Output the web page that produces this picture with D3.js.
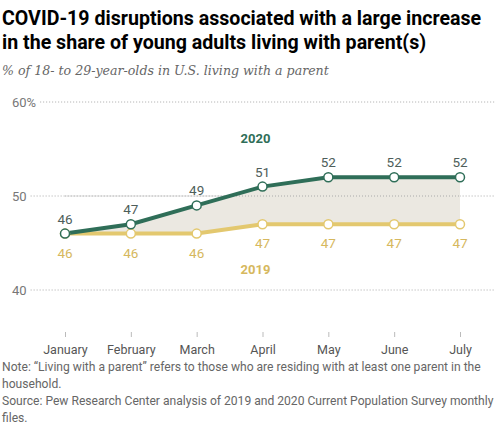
<!DOCTYPE html>
<html><head><meta charset="utf-8">
<script src="https://cdn.jsdelivr.net/npm/d3@7"></script>
<style>
body{margin:0;background:#fff;}
svg{display:block;}
</style></head>
<body>
<script>
const months = ["January","February","March","April","May","June","July"];
const values2020 = [46,47,49,51,52,52,52];
const values2019 = [46,46,46,47,47,47,47];
const yTicks = [40,50,60];
const title = ["COVID-19 disruptions associated with a large increase","in the share of young adults living with parent(s)"];
const subtitle = "% of 18- to 29-year-olds in U.S. living with a parent";
const notes = ["Note: \u201cLiving with a parent\u201d refers to those who are residing with at least one parent in the","household.","Source: Pew Research Center analysis of 2019 and 2020 Current Population Survey monthly","files."];

const W=496,H=429;
const green="#2f6e58", gold="#e3c86f", fillC="#ebe8e1";
const svg=d3.select("body").append("svg").attr("width",W).attr("height",H);

const x=d3.scalePoint().domain(months).range([65,460]);
const y=d3.scaleLinear().domain([40,60]).range([290,102]);

// title
svg.append("g").selectAll("text").data(title).join("text")
 .attr("x",2).attr("y",(d,i)=>25+i*24).text(d=>d)
 .attr("font-family","Roboto, 'Liberation Sans', sans-serif").attr("font-weight","bold").attr("font-size",19.6).attr("fill","#000");
svg.append("text").attr("x",2).attr("y",75).text(subtitle)
 .attr("font-family","'DejaVu Serif', 'Liberation Serif', serif").attr("font-style","italic").attr("font-size",12.6).attr("fill","#666");

// grid
const grid=svg.append("g");
yTicks.forEach(t=>{
  const lab = t===60? "60%": String(t);
  const tx=grid.append("text").attr("x",12).attr("y",y(t)+4.5).text(lab)
   .attr("font-family","Roboto, sans-serif").attr("font-size",13).attr("fill","#777");
  const w=tx.node().getComputedTextLength();
  grid.append("line").attr("x1",12+w+4).attr("x2",495).attr("y1",y(t)).attr("y2",y(t))
   .attr("stroke","#aaa").attr("stroke-width",1).attr("stroke-dasharray","1,2");
});

// area between
const data=months.map((m,i)=>({m,a:values2020[i],b:values2019[i]}));
svg.append("path").datum(data)
 .attr("d",d3.area().x(d=>x(d.m)).y0(d=>y(d.b)).y1(d=>y(d.a)))
 .attr("fill",fillC);
svg.append("line").attr("x1",x(months[0])).attr("x2",x(months[6])).attr("y1",y(50)).attr("y2",y(50))
 .attr("stroke","#aaa").attr("stroke-width",1).attr("stroke-dasharray","1,2");

const line=d3.line().x((d,i)=>x(months[i])).y(d=>y(d));
svg.append("path").datum(values2019).attr("d",line).attr("fill","none").attr("stroke",gold).attr("stroke-width",4);
svg.append("path").datum(values2020).attr("d",line).attr("fill","none").attr("stroke",green).attr("stroke-width",4);

svg.append("g").selectAll("circle").data(values2019).join("circle")
 .attr("cx",(d,i)=>x(months[i])).attr("cy",d=>y(d)).attr("r",4.5)
 .attr("fill","#fff").attr("stroke",gold).attr("stroke-width",1.5);
svg.append("g").selectAll("circle").data(values2020).join("circle")
 .attr("cx",(d,i)=>x(months[i])).attr("cy",d=>y(d)).attr("r",4.5)
 .attr("fill","#fff").attr("stroke",green).attr("stroke-width",1.5);

// value labels
svg.append("g").selectAll("text").data(values2020).join("text")
 .attr("x",(d,i)=>x(months[i])).attr("y",d=>y(d)-10).attr("text-anchor","middle").text(d=>d)
 .attr("font-family","Roboto, sans-serif").attr("font-size",13.5).attr("fill","#4e5e5a");
svg.append("g").selectAll("text").data(values2019).join("text")
 .attr("x",(d,i)=>x(months[i])).attr("y",d=>y(d)+24).attr("text-anchor","middle").text(d=>d)
 .attr("font-family","Roboto, sans-serif").attr("font-size",13.5).attr("fill","#d6b85e");

// series labels
svg.append("text").attr("x",x("April")-7).attr("y",143).attr("text-anchor","middle").text("2020")
 .attr("font-family","Roboto, sans-serif").attr("font-weight","bold").attr("font-size",13).attr("fill",green);
svg.append("text").attr("x",x("April")-7).attr("y",274).attr("text-anchor","middle").text("2019")
 .attr("font-family","Roboto, sans-serif").attr("font-weight","bold").attr("font-size",13).attr("fill","#d6b85e");

// x axis
const xa=svg.append("g").attr("transform","translate(0,332)")
 .call(d3.axisBottom(x).tickSize(5).tickPadding(8));
xa.select(".domain").remove();
xa.selectAll("line").attr("stroke","#bbb");
xa.selectAll("text").attr("font-family","Roboto, sans-serif").attr("font-size",12.5).attr("fill","#555");

// notes
svg.append("g").selectAll("text").data(notes).join("text")
 .attr("x",2).attr("y",(d,i)=>371+i*17).text(d=>d)
 .attr("font-family","Roboto, sans-serif").attr("font-size",12.1).attr("fill","#666");
</script>
</body></html>
